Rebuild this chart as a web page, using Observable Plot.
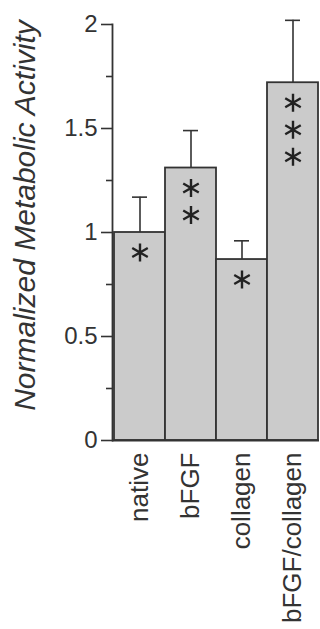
<!DOCTYPE html>
<html>
<head>
<meta charset="utf-8">
<script src="https://cdn.jsdelivr.net/npm/d3@7"></script>
<script src="https://cdn.jsdelivr.net/npm/@observablehq/plot@0.6"></script>
<style>
  html, body { margin: 0; padding: 0; background: #fff; }
  #chart svg { display: block; }
</style>
</head>
<body>
<div id="chart"></div>
<script>
const categories = ["native", "bFGF", "collagen", "bFGF/collagen"];
const means = [1.0, 1.31, 0.87, 1.72];
const errors = [0.17, 0.18, 0.09, 0.30];
const stars = [1, 2, 1, 3];
const yTicks = [0, 0.5, 1, 1.5, 2];
const yMinorTicks = [0.25, 0.75, 1.25, 1.75];
const yLabel = "Normalized Metabolic Activity";

const rows = categories.map((c, i) => ({cat: c, mean: means[i], err: errors[i], stars: stars[i]}));

const ink = "#333";
const starMarks = [0, 1, 2].map(k =>
  Plot.dot(rows.filter(d => d.stars > k), {
    x: "cat", y: "mean", symbol: "asterisk", r: 8.5,
    stroke: "#222", strokeWidth: 2.4, dy: 20 + 27 * k
  })
);

const chart = Plot.plot({
  width: 320,
  height: 629,
  marginTop: 24,
  marginBottom: 189,
  marginLeft: 112,
  marginRight: 1,
  style: {fontFamily: "'Liberation Sans', Arial, sans-serif", color: ink, background: "#fff"},
  x: {domain: categories, padding: 0, axis: null},
  y: {domain: [0, 2], axis: null},
  marks: [
    Plot.ruleX(rows, {x: "cat", y1: "mean", y2: d => d.mean + d.err, stroke: ink, strokeWidth: 1.6}),
    Plot.tickY(rows, {x: "cat", y: d => d.mean + d.err, insetLeft: 18, insetRight: 18, stroke: ink, strokeWidth: 1.6}),
    Plot.barY(rows, {x: "cat", y: "mean", fill: "#cbcbcb", stroke: ink, strokeWidth: 1.8}),
    ...starMarks,
    Plot.ruleY([0], {stroke: ink, strokeWidth: 1.8}),
    Plot.frame({anchor: "left", stroke: ink, strokeWidth: 1.8}),
    Plot.axisY(yTicks, {tickSize: 11, tickPadding: 4, fontSize: 24, strokeWidth: 1.6, tickFormat: d => String(d), label: null}),
    Plot.axisY(yMinorTicks, {tickSize: 6, tickFormat: () => "", strokeWidth: 1.6, label: null}),
    Plot.axisX(categories, {tickSize: 0, tickPadding: 12, tickRotate: -90, fontSize: 26, label: null}),
    Plot.text([yLabel], {
      frameAnchor: "left", rotate: -90, dx: -87, dy: -17,
      fontSize: 30, fontStyle: "italic", textAnchor: "middle", lineAnchor: "middle", fill: ink
    })
  ]
});
document.getElementById("chart").appendChild(chart);
</script>
</body>
</html>
